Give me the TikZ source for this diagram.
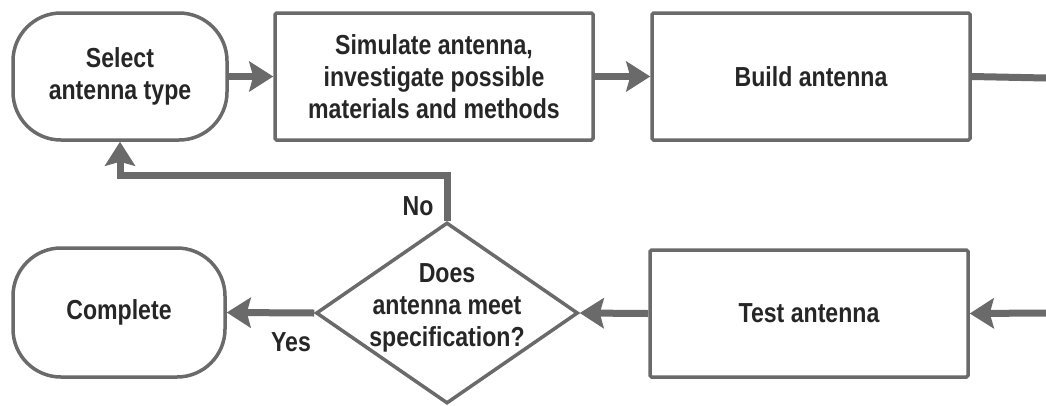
\documentclass[tikz,border=0pt]{standalone}
\usepackage{fontspec}
\newfontfamily\dfont{Liberation Sans}[FakeStretch=0.84]
\usetikzlibrary{shapes.geometric,arrows.meta}
\definecolor{lc}{HTML}{6A6A6A}
\definecolor{tc}{HTML}{262626}
\begin{document}
\begin{tikzpicture}[x=1pt,y=-1pt,
  every node/.style={font=\dfont\bfseries\fontsize{27.5}{32}\selectfont, text=tc},
  box/.style={draw=lc, line width=3.5pt, rounded corners=1.5pt, align=center, inner sep=0pt},
  term/.style={draw=lc, line width=3.5pt, rounded corners=48pt, align=center, inner sep=0pt},
  dec/.style={diamond, draw=lc, line width=3.5pt, inner sep=0pt, aspect=1.45, minimum width=262pt, minimum height=181pt},
  conn/.style={draw=lc, line width=7pt, -{Stealth[length=24pt,width=30pt,inset=4pt]}},
  plain/.style={draw=lc, line width=7pt},
  lbl/.style={inner sep=0pt}
]
\useasboundingbox (0,0) rectangle (1046,405);
\node[term, minimum width=214pt, minimum height=127pt] (sel) at (120,76.5) {Select\\antenna type};
\node[box, minimum width=318pt, minimum height=127pt] (sim) at (434,76.5) {Simulate antenna,\\investigate possible\\materials and methods};
\node[box, minimum width=318pt, minimum height=127pt] (build) at (811,76.5) {Build antenna};
\node[box, minimum width=318pt, minimum height=127pt] (test) at (809,313.5) {Test antenna};
\node[term, minimum width=212pt, minimum height=129pt] (comp) at (119,312.5) {Complete};
\node[dec, label={[align=center, yshift=5pt]center:Does\\antenna meet\\specification?}] (dec) at (447,313) {};
\coordinate (r1) at (1046,78);
\coordinate (r2) at (1046,313);
\coordinate (fb) at (447,175);
\draw[conn] (sel.east) -- (sim.west);
\draw[conn] (sim.east) -- (build.west);
\draw[plain] (build.east) -- (r1);
\draw[conn] (r2) -- (test.east);
\draw[conn] (test.west) -- (dec.east);
\draw[conn] (dec.west) -- (comp.east);
\draw[conn] (dec.north) -- (fb) -| (sel.south);
\node[lbl] (no) at (418,206) {No};
\node[lbl] (yes) at (291,342) {Yes};
\end{tikzpicture}
\end{document}
